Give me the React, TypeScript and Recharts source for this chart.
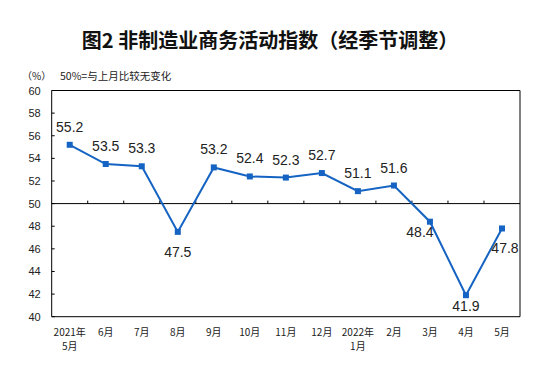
import { LineChart, Line, XAxis, YAxis, ReferenceLine, LabelList } from 'recharts'

const months = ['2021年5月', '6月', '7月', '8月', '9月', '10月', '11月', '12月', '2022年1月', '2月', '3月', '4月', '5月']
const pmi = [55.2, 53.5, 53.3, 47.5, 53.2, 52.4, 52.3, 52.7, 51.1, 51.6, 48.4, 41.9, 47.8]
const yTicks = [40, 42, 44, 46, 48, 50, 52, 54, 56, 58, 60]

const data = months.map((m, i) => ({ month: m, value: pmi[i] }))

const BLUE = '#1563c2'
const CJK = '"Noto Sans CJK SC", "Noto Sans", sans-serif'
const LATIN = '"Liberation Sans", Arial, sans-serif'

// where the value label sits relative to its point (default: above)
const labelOffset: Record<number, [number, number]> = {
  3: [0, 25],
  10: [-10, 15],
  11: [0, 15.5],
  12: [3, 25],
}

function XTick({ x, y, payload }: any) {
  const v: string = payload.value
  const idx = v.indexOf('年')
  const lines = idx >= 0 ? [v.slice(0, idx + 1), v.slice(idx + 1)] : [v]
  return (
    <g>
      {lines.map((l, i) => (
        <text key={i} x={x} y={y + 19 + i * 14.5} textAnchor="middle" fontSize={10} fontFamily={CJK} fill="#222">
          {l}
        </text>
      ))}
    </g>
  )
}

function YTick({ x, y, payload }: any) {
  return (
    <g>
      <line x1={x} x2={x + 3} y1={y} y2={y} stroke="#000" />
      <text x={x - 11} y={y + 4} textAnchor="end" fontSize={11} fontFamily={LATIN} fill="#222">
        {payload.value}
      </text>
    </g>
  )
}

function midTicks(props: any) {
  const vb = props.viewBox
  if (!vb) return null
  const n = months.length
  const step = vb.width / n
  return (
    <g>
      {months.slice(1).map((_, i) => (
        <line key={i} x1={vb.x + step * (i + 1)} x2={vb.x + step * (i + 1)} y1={vb.y} y2={vb.y - 3} stroke="#000" />
      ))}
    </g>
  )
}

function SquareDot({ cx, cy }: any) {
  return <rect x={cx - 3} y={cy - 3} width={6} height={6} fill={BLUE} />
}

function ValueLabel({ x, y, value, index }: any) {
  const [dx, dy] = labelOffset[index] ?? [0, -13]
  return (
    <text x={x + dx} y={y + dy} textAnchor="middle" fontSize={14} fontFamily={LATIN} fill="#222">
      {value}
    </text>
  )
}

export default function App() {
  return (
    <div style={{ position: 'absolute', left: 0, top: 0, width: 547, height: 373, background: '#fff' }}>
      <div
        style={{
          position: 'absolute',
          top: 27,
          left: 0,
          width: 540,
          textAlign: 'center',
          fontFamily: CJK,
          fontSize: 20,
          fontWeight: 700,
          color: '#111',
          lineHeight: '26px',
        }}
      >
        图2&nbsp;非制造业商务活动指数（经季节调整）
      </div>
      <div style={{ position: 'absolute', top: 69, left: 22, fontFamily: CJK, fontSize: 10, color: '#222', lineHeight: '14px' }}>
        （%）
      </div>
      <div style={{ position: 'absolute', top: 69, left: 60, fontFamily: CJK, fontSize: 10.5, color: '#222', lineHeight: '14px' }}>
        50%=与上月比较无变化
      </div>
      <div style={{ position: 'absolute', left: 0, top: 0 }}>
        <LineChart width={547} height={373} data={data} margin={{ top: 89.5, right: 26, bottom: 26.3, left: 11.7 }}>
          <XAxis
            dataKey="month"
            scale="band"
            height={30}
            tickSize={0}
            tickMargin={0}
            interval={0}
            stroke="#000"
            tick={<XTick />}
          />
          <XAxis xAxisId="top" dataKey="month" scale="band" orientation="top" height={1} tick={false} tickLine={false} stroke="#000" />
          <YAxis
            domain={[40, 60]}
            ticks={yTicks}
            width={40}
            tickSize={0}
            tickMargin={0}
            interval={0}
            stroke="#000"
            tick={<YTick />}
          />
          <YAxis yAxisId="right" orientation="right" domain={[40, 60]} width={1} tick={false} tickLine={false} stroke="#000" />
          <ReferenceLine y={50} stroke="#000" strokeWidth={1} label={midTicks} />
          <Line
            dataKey="value"
            stroke={BLUE}
            strokeWidth={2}
            dot={<SquareDot />}
            activeDot={false}
            isAnimationActive={false}
          >
            <LabelList dataKey="value" content={<ValueLabel />} />
          </Line>
        </LineChart>
      </div>
    </div>
  )
}
